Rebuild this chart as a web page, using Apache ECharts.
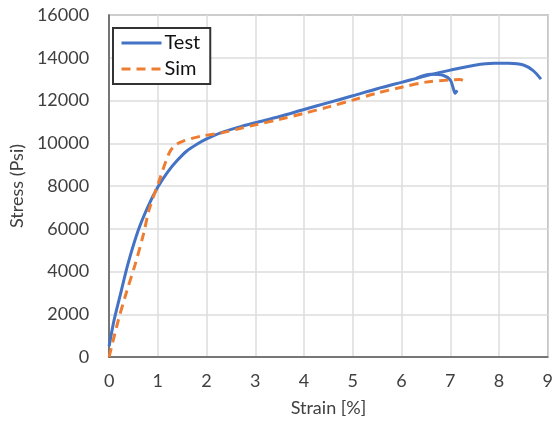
<!DOCTYPE html>
<html>
<head>
<meta charset="utf-8">
<script src="https://cdn.jsdelivr.net/npm/echarts@6/dist/echarts.min.js"></script>
<style>html,body{margin:0;padding:0;background:#fff}#c{width:556px;height:422px}</style>
</head>
<body>
<div id="c"></div>
<script>
// Strain [%] / Stress (Psi) pairs
var testStrain = [0, 0.1, 0.22, 0.39, 0.6, 0.8, 1.0, 1.2, 1.4, 1.6, 1.8, 2.0, 2.3, 2.7, 3.0, 3.5, 4.0, 4.5, 5.0, 5.5, 6.0, 6.5, 7.0, 7.5, 7.9, 8.2, 8.5, 8.7, 8.86];
var testStress = [500, 1700, 2820, 4380, 5940, 7050, 7950, 8650, 9200, 9650, 9950, 10200, 10500, 10780, 10960, 11250, 11580, 11900, 12220, 12550, 12850, 13150, 13420, 13650, 13740, 13740, 13660, 13400, 13000];
var test2Strain = [6.3, 6.6, 6.85, 7.0, 7.05, 7.1, 7.14];
var test2Stress = [13040, 13230, 13180, 12960, 12650, 12340, 12480];
var simStrain = [0, 0.19, 0.36, 0.53, 0.7, 0.82, 1.02, 1.23, 1.35, 1.5, 1.7, 1.9, 2.3, 2.7, 3.0, 3.5, 4.0, 4.5, 5.0, 5.5, 6.0, 6.5, 7.0, 7.2, 7.34];
var simStress = [0, 1730, 3060, 4300, 5700, 6880, 8200, 9530, 9900, 10080, 10230, 10340, 10480, 10700, 10860, 11120, 11400, 11700, 12020, 12350, 12620, 12860, 12960, 12980, 12850];
var seriesNames = ['Test', 'Sim'];

function pairs(xs, ys) { return xs.map(function (x, i) { return [x, ys[i]]; }); }

var chart = echarts.init(document.getElementById('c'));
var font = 'Lato, "Open Sans", sans-serif';
chart.setOption({
  animation: false,
  backgroundColor: '#fff',
  grid: { left: 108, right: 6, top: 15, bottom: 65, show: true, borderColor: '#7f7f7f', borderWidth: 1.5 },
  legend: {
    orient: 'vertical', left: 113, top: 28,
    data: seriesNames,
    backgroundColor: '#fff', borderColor: '#333', borderWidth: 2,
    padding: [5, 10, 5, 7], itemGap: 6, itemWidth: 40, itemHeight: 14,
    itemStyle: { opacity: 0, borderWidth: 0 },
    lineStyle: { width: 3 },
    textStyle: { fontFamily: font, fontSize: 20, color: '#111', padding: [0, 0, 0, -2] }
  },
  xAxis: {
    type: 'value', min: 0, max: 9, interval: 1,
    name: 'Strain [%]', nameLocation: 'middle', nameGap: 42,
    nameTextStyle: { fontFamily: font, fontSize: 18, color: '#404040' },
    axisLine: { show: true, onZero: false, lineStyle: { color: '#595959', width: 1.5 } },
    axisTick: { show: false },
    axisLabel: { fontFamily: font, fontSize: 18, color: '#404040', margin: 15 },
    splitLine: { show: true, lineStyle: { color: '#dcdcdc', width: 1.5 } }
  },
  yAxis: {
    type: 'value', min: 0, max: 16000, interval: 2000,
    name: 'Stress (Psi)', nameLocation: 'middle', nameGap: 80,
    nameTextStyle: { fontFamily: font, fontSize: 18, color: '#404040' },
    axisLine: { show: true, lineStyle: { color: '#595959', width: 1.5 } },
    axisTick: { show: false },
    axisLabel: { fontFamily: font, fontSize: 18, color: '#404040', margin: 20, formatter: function (v) { return String(v); } },
    splitLine: { show: true, lineStyle: { color: '#dcdcdc', width: 1.5 } }
  },
  series: [
    { name: 'Test', type: 'line', data: pairs(testStrain, testStress), symbol: 'none', smooth: 0.3,
      lineStyle: { color: '#4472C4', width: 3 }, itemStyle: { color: '#4472C4' }, z: 2 },
    { name: 'Test', type: 'line', data: pairs(test2Strain, test2Stress), symbol: 'none', smooth: 0.3,
      lineStyle: { color: '#4472C4', width: 3 }, itemStyle: { color: '#4472C4' }, z: 2 },
    { name: 'Sim', type: 'line', data: pairs(simStrain, simStress), symbol: 'none', smooth: 0.3,
      lineStyle: { color: '#ED7D31', width: 3, type: [9, 6] }, itemStyle: { color: '#ED7D31' }, z: 3 }
  ]
});
</script>
</body>
</html>
